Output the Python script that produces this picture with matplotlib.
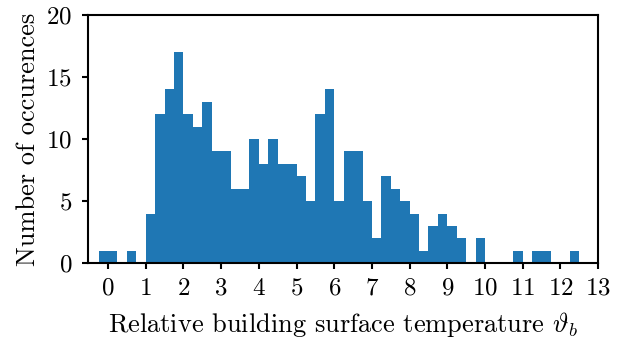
import matplotlib
matplotlib.use("Agg")
import matplotlib.pyplot as plt
import numpy as np

plt.rcParams['font.family'] = 'serif'
plt.rcParams['font.serif'] = ['cmr10']
plt.rcParams['mathtext.fontset'] = 'cm'
plt.rcParams['axes.formatter.use_mathtext'] = True
plt.rcParams['font.size'] = 18
plt.rcParams['axes.labelsize'] = 19
plt.rcParams['axes.linewidth'] = 1.5
plt.rcParams['xtick.major.width'] = 1.5
plt.rcParams['ytick.major.width'] = 1.5
plt.rcParams['xtick.major.size'] = 4.5
plt.rcParams['ytick.major.size'] = 4.5
plt.rcParams['xtick.major.pad'] = 6
plt.rcParams['ytick.major.pad'] = 7

bin_start = -0.25
bin_width = 0.25
counts = [1, 1, 0, 1, 0, 4, 12, 14, 17, 12, 11, 13, 9, 9, 6, 6, 10, 8, 10, 8,
          8, 7, 5, 12, 14, 5, 9, 9, 5, 2, 7, 6, 5, 4, 1, 3, 4, 3, 2, 0,
          2, 0, 0, 0, 1, 0, 1, 1, 0, 0, 1]
x_ticks = list(range(0, 14))
y_ticks = [0, 5, 10, 15, 20]

edges = bin_start + bin_width * np.arange(len(counts) + 1)
centers = (edges[:-1] + edges[1:]) / 2

fig = plt.figure(figsize=(6.33, 3.4), dpi=100)
ax = fig.add_axes([0.139, 0.226, 0.806, 0.730])
ax.hist(centers, bins=edges, weights=counts, color='#1f77b4')
ax.set_xlim(-0.53, 13)
ax.set_ylim(0, 20)
ax.set_xticks(x_ticks)
ax.set_yticks(y_ticks)
ax.set_xlabel(r'Relative building surface temperature $\vartheta_b$', labelpad=7)
ax.set_ylabel('Number of occurences', labelpad=4)
fig.savefig('out.png', dpi=100)
